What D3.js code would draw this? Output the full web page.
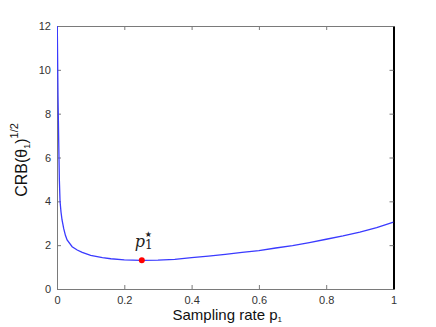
<!DOCTYPE html>
<html><head><meta charset="utf-8">
<script src="https://cdn.jsdelivr.net/npm/d3@7"></script>
<style>body{margin:0;background:#fff}svg{display:block}</style>
</head><body>
<script>
const pValues = [0.0005,0.003,0.005,0.007,0.009,0.012,0.015,0.02,0.025,0.03,0.045,0.06,0.075,0.1,0.135,0.16,0.2,0.25,0.3,0.35,0.4,0.45,0.5,0.55,0.6,0.65,0.7,0.75,0.8,0.85,0.9,0.95,1.0];
const crbValues = [12.5,8.8,6.8,5.0,4.0,3.5,3.15,2.75,2.45,2.24,1.93,1.78,1.67,1.53,1.43,1.38,1.33,1.31,1.32,1.35,1.43,1.5,1.58,1.67,1.75,1.87,1.98,2.12,2.27,2.42,2.6,2.8,3.05];
const optimum = {p:0.252, v:1.31};
const xTicks = [0,0.2,0.4,0.6,0.8,1];
const yTicks = [0,2,4,6,8,10,12];

const W=436,H=327;
const L=57,R=393.5,T=26,B=289;
const svg=d3.select("body").append("svg").attr("width",W).attr("height",H);
const x=d3.scaleLinear().domain([0,1]).range([L,R]);
const y=d3.scaleLinear().domain([0,12]).range([B,T]);
const axisColor="#7a7a7a";
const font="Arial, 'Liberation Sans', sans-serif";

svg.append("defs").append("clipPath").attr("id","clip").append("rect")
  .attr("x",L).attr("y",T).attr("width",R-L).attr("height",B-T);

const gx=svg.append("g").attr("transform",`translate(0,${B})`)
  .call(d3.axisBottom(x).tickValues(xTicks).tickSizeInner(-4).tickSizeOuter(0).tickPadding(7).tickFormat(d3.format("")));
const gxt=svg.append("g").attr("transform",`translate(0,${T})`)
  .call(d3.axisTop(x).tickValues(xTicks).tickSizeInner(-4).tickSizeOuter(0).tickFormat(""));
const gy=svg.append("g").attr("transform",`translate(${L},0)`)
  .call(d3.axisLeft(y).tickValues(yTicks).tickSizeInner(-4).tickSizeOuter(0).tickPadding(6));
const gyr=svg.append("g").attr("transform",`translate(${R},0)`)
  .call(d3.axisRight(y).tickValues(yTicks).tickSizeInner(-4).tickSizeOuter(0).tickFormat(""));
[gx,gxt,gy,gyr].forEach(g=>{
  g.selectAll("path").attr("stroke",axisColor);
  g.selectAll("line").attr("stroke",axisColor);
  g.selectAll("text").attr("fill","#333").style("font-family",font).style("font-size","11px");
});
gyr.select("path").attr("stroke","#000").attr("stroke-width",2);

const data=pValues.map((p,i)=>({p,v:crbValues[i]}));
svg.append("path").datum(data).attr("clip-path","url(#clip)")
  .attr("fill","none").attr("stroke","#3a3aff").attr("stroke-width",1.3)
  .attr("d",d3.line().x(d=>x(d.p)).y(d=>y(d.v)));

svg.append("circle").attr("cx",x(optimum.p)).attr("cy",y(optimum.v)).attr("r",3).attr("fill","#ff0000");
const lab=svg.append("text").attr("x",x(optimum.p)-7).attr("y",y(optimum.v)-13)
  .style("font-family","'DejaVu Serif','Liberation Serif',serif").style("font-size","16px").attr("fill","#222");
lab.append("tspan").style("font-style","italic").text("p");
lab.append("tspan").attr("dy",2).style("font-size","12px").text("1");
svg.append("text").attr("x",x(optimum.p)+6.5).attr("y",y(optimum.v)-23).attr("text-anchor","middle")
  .style("font-family","'DejaVu Sans',sans-serif").style("font-size","8px").attr("fill","#222").text("★");

const xl=svg.append("text").attr("x",(L+R)/2+2).attr("y",320).attr("text-anchor","middle")
  .style("font-family",font).style("font-size","15px").attr("fill","#111");
xl.append("tspan").text("Sampling rate p");
xl.append("tspan").attr("dy",2).style("font-size","8px").text("1");

const yl=svg.append("text").attr("transform","translate(27,160) rotate(-90)").attr("text-anchor","middle")
  .style("font-family",font).style("font-size","16px").attr("fill","#111");
yl.append("tspan").text("CRB(θ");
yl.append("tspan").attr("dy",3).style("font-size","9px").text("1");
yl.append("tspan").attr("dy",-3).text(")");
yl.append("tspan").attr("dy",-9).style("font-size","11px").text("1/2");
</script>
</body></html>
